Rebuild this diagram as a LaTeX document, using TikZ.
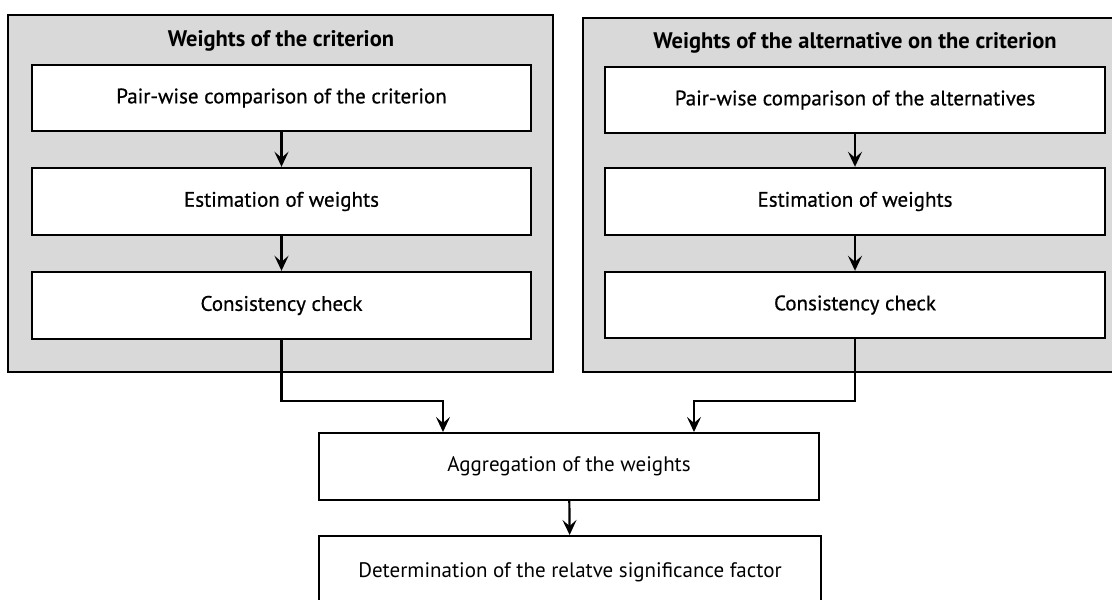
\documentclass[tikz,border=0pt]{standalone}
\usepackage{fontspec}
\setmainfont{PT Sans}
\usetikzlibrary{arrows.meta}
\definecolor{panelgray}{HTML}{D9D9D9}
\tikzset{
  panel/.style={draw=black, line width=2.4pt, fill=panelgray, inner sep=0pt},
  stepbox/.style={draw=black, line width=2.4pt, fill=white, inner sep=0pt, font=\fontsize{21}{25}\selectfont\addfontfeature{FakeBold=0.6}},
  lowbox/.style={draw=black, line width=2pt, fill=white, inner sep=0pt, font=\fontsize{21}{25}\selectfont},
  ptitle/.style={inner sep=0pt, font=\fontsize{22.5}{27}\selectfont\bfseries},
  arr/.style={draw=black, line width=2.2pt, -{Stealth[length=15pt, width=14pt, inset=6pt]}},
}
\begin{document}
\begin{tikzpicture}[x=1pt, y=-1pt]
\clip (0,0) rectangle (1112,600);
\useasboundingbox (0,0) rectangle (1112,600);
\fill[white] (0,0) rectangle (1112,600);

% left panel
\node[panel, minimum width=545pt, minimum height=357pt] (lp) at (280.5,193.5) {};
\node[ptitle] (lt) at (281,41) {Weights of the criterion};
\node[stepbox, minimum width=499pt, minimum height=66pt] (l1) at (281.5,98) {Pair-wise comparison of the criterion};
\node[stepbox, minimum width=499pt, minimum height=67pt] (l2) at (281.5,201.5) {Estimation of weights};
\node[stepbox, minimum width=499pt, minimum height=67pt] (l3) at (281.5,305.5) {Consistency check};

% right panel
\node[panel, minimum width=545pt, minimum height=354pt] (rp) at (855.5,195) {};
\node[ptitle] (rt) at (855,43) {Weights of the alternative on the criterion};
\node[stepbox, minimum width=500pt, minimum height=66pt] (r1) at (855,100) {Pair-wise comparison of the alternatives};
\node[stepbox, minimum width=500pt, minimum height=67pt] (r2) at (855,201.5) {Estimation of weights};
\node[stepbox, minimum width=500pt, minimum height=66pt] (r3) at (855,305) {Consistency check};

% bottom boxes
\node[lowbox, minimum width=500pt, minimum height=67pt] (agg) at (569,466.5) {Aggregation of the weights};
\node[lowbox, minimum width=502pt, minimum height=72pt] (det) at (570,572) {Determination of the relatve significance factor};

% arrows inside panels
\draw[arr] (l1) -- (l2);
\draw[arr] (l2) -- (l3);
\draw[arr] (r1) -- (r2);
\draw[arr] (r2) -- (r3);

% connectors
\draw[arr] (l3.south) -- ++(0,61) -| ([xshift=-126pt]agg.north);
\draw[arr] (r3.south) -- ++(0,62) -| ([xshift=125pt]agg.north);
\draw[arr] (agg) -- (det);
\end{tikzpicture}
\end{document}
